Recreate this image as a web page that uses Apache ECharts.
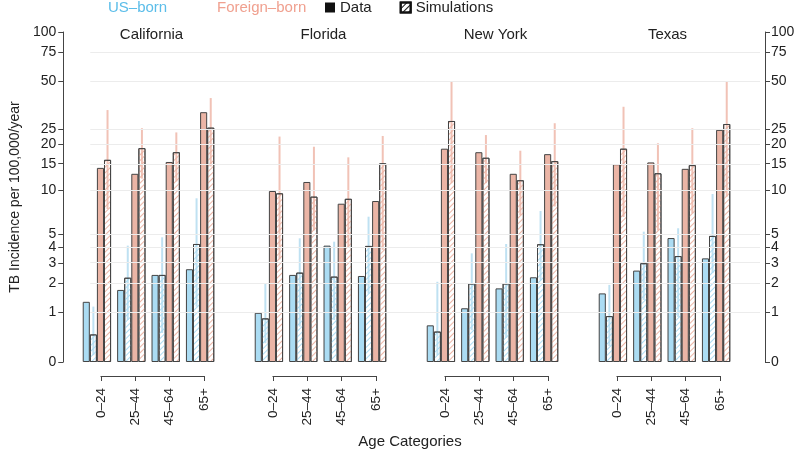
<!DOCTYPE html>
<html><head><meta charset="utf-8">
<script src="https://cdn.jsdelivr.net/npm/echarts@6/dist/echarts.min.js"></script>
<style>html,body{margin:0;padding:0;background:#fff}#c{width:800px;height:456px}</style>
</head><body><div id="c"></div>
<script>
// ---- data (state order: California, Florida, New York, Texas; 4 age groups each) ----
const states = ['California', 'Florida', 'New York', 'Texas'];
const ages = ['0–24', '25–44', '45–64', '65+'];
const usData = [1.32, 1.74, 2.38, 2.66,  0.99, 2.38, 4.09, 2.33,  0.67, 1.12, 1.80, 2.27,  1.61, 2.59, 4.66, 3.26];
const usSim  = [0.47, 2.25, 2.38, 4.21,  0.84, 2.49, 2.30, 4.07,  0.53, 2.00, 2.00, 4.19,  0.90, 2.98, 3.40, 4.83];
const fbData = [14.1, 12.9, 15.4, 31.9,  9.93, 11.4, 8.15, 8.5,   18.75, 17.8, 12.9, 17.3, 14.9, 15.3, 13.9, 24.7];
const fbSim  = [15.9, 18.9, 17.8, 25.5,  9.58, 9.1, 8.8, 15.1,    28.1, 16.4, 11.7, 15.6,  18.75, 13.0, 14.7, 26.9];
const usSimLo = [0.10, 0.80, 0.50, 1.17, 0.30, 0.64, 0.80, 1.60,  0.10, 0.56, 0.40, 2.15,  0.25, 1.38, 0.88, 2.47];
const usSimHi = [1.17, 4.09, 4.72, 8.87, 2.00, 4.64, 4.38, 6.63,  2.07, 3.57, 4.21, 7.26,  1.94, 5.19, 5.49, 9.48];
const fbSimLo = [7.5, 12.0, 11.5, 14.4,  3.2, 5.3, 4.0, 3.8,      11.2, 11.2, 6.8, 7.8,    6.6, 5.3, 7.0, 9.1];
const fbSimHi = [32.9, 25.3, 23.8, 39.1, 22.4, 19.3, 16.5, 22.6,  49.2, 22.9, 18.2, 27.2,  34.5, 20.3, 25.3, 49.2];
const yTicks = [0, 1, 2, 3, 4, 5, 10, 15, 20, 25, 50, 75, 100];

// ---- scale: log(1 + x) ----
const t = v => Math.log(1 + v);
const YMAX = t(100);
const BARW = 0.206;

const slots = [];
states.forEach((s, si) => {
  ages.forEach((a, ai) => slots.push({ si, ai }));
  if (si < states.length - 1) slots.push(null);
});
const cats = slots.map((d, i) => d ? states[d.si] + ' ' + ages[d.ai] : 'gap' + i);
const col = arr => slots.map(d => d ? t(arr[d.si * 4 + d.ai]) : null);
const errCol = (lo, hi) => slots.map((d, i) => d ? [i, t(lo[d.si * 4 + d.ai]), t(hi[d.si * 4 + d.ai])] : null).filter(Boolean);

const BLUE = '#abdcf3', PINK = '#ebb5a6';
const BLUE_ERR = '#bfe1f2', PINK_ERR = '#f1c2b6';
const BORDER = '#444';
const FONT = 'Liberation Sans, Arial, sans-serif';

function errItem(pos, color) {
  return function (params, api) {
    const x = api.value(0);
    const p1 = api.coord([x, api.value(1)]);
    const p2 = api.coord([x, api.value(2)]);
    const band = api.size([1, 0])[0];
    const dx = band * BARW * (pos - 1.5);
    return { type: 'line', shape: { x1: p1[0] + dx, y1: p1[1], x2: p2[0] + dx, y2: p2[1] },
      style: { stroke: color, lineWidth: 2 } };
  };
}
const hatch = c => ({ symbol: 'rect', symbolSize: 1, dashArrayX: [1, 0], dashArrayY: [1, 3], rotation: -Math.PI / 4, color: c });

function barSeries(name, arr, fill, decalColor) {
  return {
    type: 'bar', name, data: col(arr), xAxisIndex: 0, yAxisIndex: 0,
    barWidth: (BARW * 100) + '%', barGap: '0%', z: 3, silent: true,
    itemStyle: { color: decalColor ? 'rgba(255,255,255,0)' : fill, borderColor: BORDER, borderWidth: 1,
      decal: decalColor ? hatch(decalColor) : null }
  };
}

// bracket axis positions (layout)
const G0L = 79.7, G0W = 653.6, SLOT = G0W / 19;
const bracketGrids = states.map((s, si) => ({ left: G0L + (si * 5 + 0.5) * SLOT + 4, width: SLOT * 3, top: 32, bottom: 80 }));

const chart = echarts.init(document.getElementById('c'));
const tickLabel = v => String(Math.round(Math.exp(v) - 1));
const yCustom = yTicks.map(t);

const option = {
  animation: false,
  textStyle: { fontFamily: FONT },
  title: [
    { text: 'US–born', left: 108, top: 0, padding: 0, textStyle: { color: '#5bbde9', fontSize: 15, fontWeight: 'normal', fontFamily: FONT } },
    { text: 'Foreign–born', left: 217, top: 0, padding: 0, textStyle: { color: '#f0a08f', fontSize: 15, fontWeight: 'normal', fontFamily: FONT } },
    ...states.map((s, si) => ({ text: s, left: G0L + (si * 5 + 2) * SLOT + 3, top: 27, padding: 0, textAlign: 'center',
      textStyle: { color: '#222', fontSize: 15, fontWeight: 'normal', fontFamily: FONT } })),
    { text: 'Age Categories', left: 410, top: 434, padding: 0, textAlign: 'center',
      textStyle: { color: '#222', fontSize: 15, fontWeight: 'normal', fontFamily: FONT } }
  ],
  legend: {
    data: ['Data', 'Simulations'], left: 325, top: 0, padding: 0, itemGap: 28,
    icon: 'rect', itemWidth: 10, itemHeight: 10, selectedMode: false,
    textStyle: { color: '#222', fontSize: 15, fontFamily: FONT }
  },
  grid: [
    { left: G0L, width: G0W, top: 32, bottom: 94 },
    { left: 80, right: 40, top: 32, bottom: 94 },
    ...bracketGrids
  ],
  xAxis: [
    { type: 'category', gridIndex: 0, data: cats, show: false },
    { type: 'category', gridIndex: 1, data: [''], show: false },
    ...states.map((s, si) => ({
      type: 'category', gridIndex: 2 + si, data: ages, boundaryGap: false,
      axisLine: { show: true, lineStyle: { color: BORDER, width: 1 } },
      axisTick: { show: true, length: 5, lineStyle: { color: BORDER } },
      axisLabel: { rotate: 90, margin: 12, color: '#222', fontSize: 13.5, fontFamily: FONT, interval: 0 },
      splitLine: { show: false }
    }))
  ],
  yAxis: [
    { type: 'value', gridIndex: 0, min: 0, max: YMAX, show: false },
    { type: 'value', gridIndex: 1, min: 0, max: YMAX, position: 'left', offset: 27,
      name: 'TB Incidence per 100,000/year', nameLocation: 'middle', nameGap: 36,
      nameTextStyle: { color: '#222', fontSize: 14, fontFamily: FONT },
      axisLine: { show: true, lineStyle: { color: BORDER } },
      axisTick: { show: true, length: 5, customValues: yCustom, lineStyle: { color: BORDER } },
      axisLabel: { customValues: yCustom, formatter: tickLabel, margin: 7, color: '#222', fontSize: 14, fontFamily: FONT },
      splitLine: { show: false } },
    { type: 'value', gridIndex: 1, min: 0, max: YMAX, position: 'right', offset: 5,
      axisLine: { show: true, lineStyle: { color: BORDER } },
      axisTick: { show: true, length: 5, customValues: yCustom, lineStyle: { color: BORDER } },
      axisLabel: { customValues: yCustom, formatter: tickLabel, margin: 6, color: '#222', fontSize: 14, fontFamily: FONT },
      splitLine: { show: false } },
    ...states.map((s, si) => ({ type: 'value', gridIndex: 2 + si, show: false }))
  ],
  series: [
    { type: 'line', name: 'grid', xAxisIndex: 1, yAxisIndex: 1, data: [], silent: true, z: 0,
      markLine: { silent: true, symbol: 'none', label: { show: false },
        lineStyle: { color: '#ececec', width: 1, type: 'solid' },
        data: yTicks.filter(v => v > 0).map(v => ({ yAxis: t(v) })) } },
    { type: 'bar', name: 'Data', xAxisIndex: 1, yAxisIndex: 1, data: [], itemStyle: { color: '#111' } },
    { type: 'bar', name: 'Simulations', xAxisIndex: 1, yAxisIndex: 1, data: [],
      itemStyle: { color: '#fff', borderColor: '#111', borderWidth: 1, decal: hatch('#111') } },
    { type: 'custom', name: 'usErr', xAxisIndex: 0, yAxisIndex: 0, z: 1, silent: true,
      renderItem: errItem(1, BLUE_ERR), data: errCol(usSimLo, usSimHi) },
    { type: 'custom', name: 'fbErr', xAxisIndex: 0, yAxisIndex: 0, z: 1, silent: true,
      renderItem: errItem(3, PINK_ERR), data: errCol(fbSimLo, fbSimHi) },
    barSeries('US-born data', usData, BLUE, null),
    barSeries('US-born simulations', usSim, BLUE, BLUE),
    barSeries('Foreign-born data', fbData, PINK, null),
    barSeries('Foreign-born simulations', fbSim, PINK, PINK)
  ]
};
chart.setOption(option);
</script>
</body></html>
